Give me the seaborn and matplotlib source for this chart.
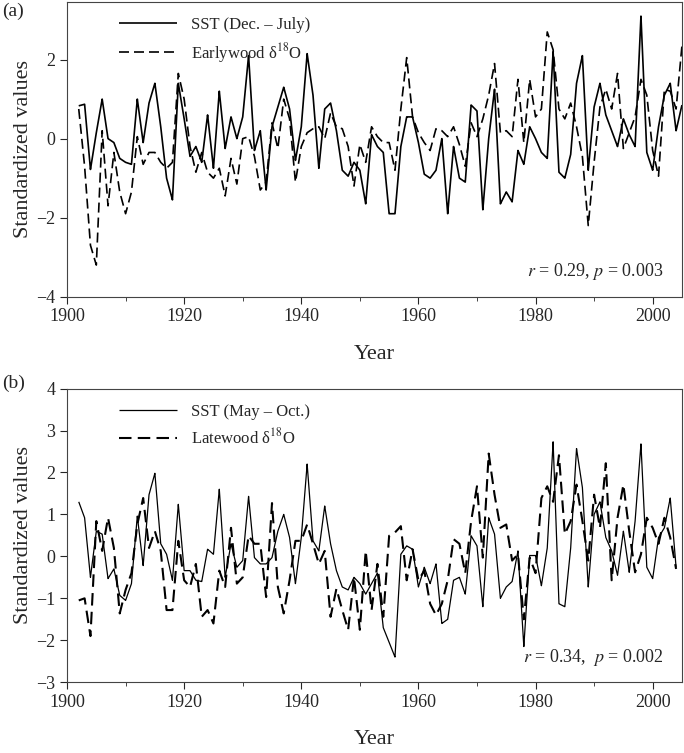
import numpy as np
import pandas as pd
import seaborn as sns
import matplotlib.pyplot as plt
from matplotlib.ticker import MultipleLocator

years_a = list(range(1902, 2006))
sst_a = [0.83,0.87,-0.78,0.15,1.0,0.0,-0.1,-0.5,-0.6,-0.65,1.0,-0.1,0.9,1.4,0.3,-1.0,-1.55,1.4,0.5,-0.45,
         -0.2,-0.6,0.6,-0.75,1.2,-0.25,0.55,0.0,0.55,2.1,-0.3,0.2,-1.3,0.3,0.8,1.3,0.75,-0.55,0.3,2.15,
         1.1,-0.75,0.75,0.9,0.2,-0.8,-0.95,-0.6,-0.8,-1.65,0.1,-0.2,-0.35,-1.9,-1.9,-0.2,0.55,0.55,-0.1,-0.9,
         -1.0,-0.8,0.0,-1.9,-0.2,-1.0,-1.1,0.85,0.7,-1.8,0.0,1.25,-1.65,-1.35,-1.6,-0.3,-0.65,0.3,0.0,-0.35,
         -0.5,2.2,-0.85,-1.0,-0.4,1.4,2.1,-0.8,0.8,1.4,0.6,0.2,-0.2,0.5,0.1,-0.2,3.1,-0.35,-0.8,0.3,
         1.1,1.4,0.2,0.85]
ew_a = [0.75,-0.7,-2.7,-3.2,0.2,-1.7,-0.35,-1.35,-1.9,-1.35,0.05,-0.65,-0.35,-0.35,-0.6,-0.75,-0.6,1.65,1.0,-0.2,
        -0.85,-0.35,-0.85,-1.0,-0.75,-1.45,-0.5,-1.15,0.0,0.05,-0.45,-1.3,-1.1,0.4,-0.25,1.0,0.5,-1.1,-0.2,0.15,
        0.25,0.3,0.0,0.65,0.3,0.25,-0.2,-1.2,-0.15,-0.6,0.3,0.05,-0.1,-0.1,-0.8,0.75,2.05,0.55,0.15,-0.1,
        -0.3,0.25,0.2,0.05,0.3,-0.15,-0.7,0.4,0.05,0.5,1.1,1.9,0.15,0.2,0.05,1.5,-0.1,1.5,0.55,0.75,
        2.7,2.25,0.75,0.5,0.9,0.3,-0.45,-2.2,-0.6,0.8,1.25,0.75,1.65,-0.25,0.15,0.55,1.5,1.1,-0.3,-0.95,
        1.25,1.2,0.75,2.35]

years_b = list(range(1902, 2005))
sst_b = [1.3,0.92,-0.5,0.6,0.53,-0.53,-0.3,-0.93,-1.05,-0.65,0.96,-0.22,1.47,1.98,0.3,0.05,-0.57,1.24,-0.34,-0.34,
         -0.57,-0.6,0.17,0.05,1.6,-0.5,0.3,-0.26,-0.1,1.43,-0.03,-0.18,-0.18,-0.03,0.6,1.0,0.45,-0.65,0.45,2.2,
         0.37,0.13,1.2,0.3,-0.34,-0.73,-0.8,-0.5,-0.65,-0.9,-0.65,-0.4,-1.7,-2.05,-2.4,0.05,0.25,0.17,-0.73,-0.26,
         -0.65,-0.18,-1.6,-1.5,-0.57,-0.5,-0.9,0.49,0.25,-1.2,0.92,0.53,-1.0,-0.73,-0.6,0.13,-2.15,0.02,0.02,-0.7,
         0.2,2.73,-1.13,-1.2,0.2,2.57,1.64,-0.73,1.0,1.3,0.45,0.13,-0.45,0.6,-0.38,0.84,2.68,-0.26,-0.53,0.45,
         0.68,1.39,-0.26]
lw_b = [-1.05,-1.0,-1.9,0.84,0.13,0.92,0.2,-1.36,-0.8,-0.4,0.76,1.39,0.2,0.6,0.13,-1.28,-1.28,0.37,-0.57,-0.73,
        -0.18,-1.44,-1.28,-1.6,-0.34,-0.73,0.68,-0.65,-0.5,0.49,0.3,0.3,-0.97,1.27,-0.73,-1.36,-0.57,0.37,0.37,0.76,
        0.3,-0.18,0.13,-1.44,-0.77,-1.28,-1.75,-0.5,-1.75,0.13,-1.28,-0.18,-1.44,0.49,0.57,0.72,-0.57,0.17,-0.57,-0.34,
        -1.13,-1.4,-1.13,-0.57,0.41,0.3,-0.4,0.84,1.67,-0.03,2.45,1.47,0.68,0.76,-0.1,0.05,-1.5,-0.03,-0.4,1.39,
        1.67,1.3,2.41,0.53,0.84,1.71,0.84,-0.1,1.47,0.68,2.22,-0.57,0.92,1.71,0.6,-0.38,0.05,0.92,0.68,0.3,
        0.92,0.45,-0.3]

sns.set_style("ticks")
plt.rcParams['font.family'] = ['Liberation Serif', 'DejaVu Serif']
plt.rcParams['mathtext.fontset'] = 'stix'

fig = plt.figure(figsize=(6.84, 7.53), dpi=100)
ax1 = fig.add_axes([0.098, 0.606, 0.899, 0.392])
ax2 = fig.add_axes([0.098, 0.094, 0.899, 0.390])

da = pd.DataFrame({'Year': years_a * 2, 'v': sst_a + ew_a,
                   's': ['SST (Dec. – July)'] * len(years_a) + ['Earlywood δ$^{18}$O'] * len(years_a)})
db = pd.DataFrame({'Year': years_b * 2, 'v': sst_b + lw_b,
                   's': ['SST (May – Oct.)'] * len(years_b) + ['Latewood δ$^{18}$O'] * len(years_b)})

sns.lineplot(data=da, x='Year', y='v', style='s', ax=ax1, color='black', lw=1.2,
             dashes=[(1, 0), (6, 3)])
sns.lineplot(data=db, x='Year', y='v', style='s', ax=ax2, color='black',
             size='s', sizes=[0.9, 1.5], dashes=[(1, 0), (6, 3)])

for ax, ylim, yt in [(ax1, (-4, 3.47), [-4, -2, 0, 2]), (ax2, (-3, 4), list(range(-3, 5)))]:
    ax.set_xlim(1900, 2005)
    ax.set_ylim(*ylim)
    ax.set_yticks(yt)
    ax.set_xticks([1900, 1920, 1940, 1960, 1980, 2000])
    ax.xaxis.set_minor_locator(MultipleLocator(10))
    ax.tick_params(labelsize=13, direction='out', length=5)
    ax.tick_params(which='minor', length=3)
    ax.set_xlabel('Year', fontsize=16, labelpad=14)
    ax.set_ylabel('Standardized values', fontsize=16, labelpad=2)
    for sp in ax.spines.values():
        sp.set_visible(True)
        sp.set_color('#444444')
    leg = ax.legend(loc='upper left', bbox_to_anchor=(0.06, 1.0), frameon=False, fontsize=12,
                    handlelength=3.5, title=None)

ax1.text(0.97, 0.07, r'$r$ = 0.29, $p$ = 0.003', transform=ax1.transAxes, ha='right', fontsize=13)
ax2.text(0.97, 0.07, r'$r$ = 0.34,  $p$ = 0.002', transform=ax2.transAxes, ha='right', fontsize=13)
fig.text(0.003, 0.985, '(a)', fontsize=14, va='center')
fig.text(0.003, 0.491, '(b)', fontsize=14, va='center')

fig.savefig('out.png', dpi=100)
